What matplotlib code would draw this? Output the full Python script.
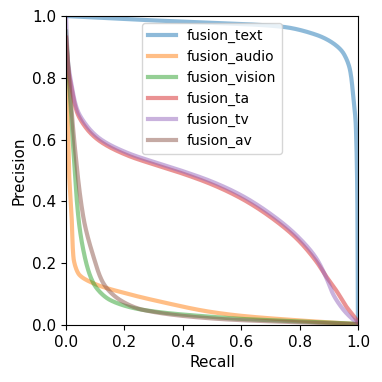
import matplotlib
matplotlib.use('Agg')
import matplotlib.pyplot as plt
import numpy as np

# Precision / recall curves
text_r = [0.0, 0.25, 0.5, 0.65, 0.744, 0.858, 0.915, 0.95, 0.973, 0.983, 0.993, 0.998, 1.0]
text_p = [1.0, 0.988, 0.978, 0.972, 0.965, 0.939, 0.912, 0.88, 0.825, 0.75, 0.64, 0.4, 0.0]

audio_r = [0.0, 0.005, 0.01, 0.019, 0.025, 0.042, 0.094, 0.208, 0.322, 0.493, 0.6, 0.8, 1.0]
audio_p = [0.9, 0.7, 0.5, 0.35, 0.221, 0.167, 0.135, 0.102, 0.076, 0.043, 0.03, 0.015, 0.003]

vision_r = [0.0, 0.01, 0.025, 0.042, 0.059, 0.094, 0.151, 0.265, 0.493, 0.6, 0.8, 1.0]
vision_p = [0.95, 0.8, 0.566, 0.35, 0.243, 0.135, 0.081, 0.049, 0.027, 0.02, 0.012, 0.004]

ta_r = [0.0, 0.005, 0.02, 0.037, 0.071, 0.116, 0.208, 0.3, 0.4, 0.5, 0.6, 0.7, 0.79, 0.858, 0.893, 0.927, 0.96, 0.985, 1.0]
ta_p = [0.93, 0.85, 0.76, 0.69, 0.635, 0.595, 0.55, 0.52, 0.49, 0.455, 0.41, 0.35, 0.28, 0.205, 0.155, 0.11, 0.06, 0.03, 0.01]

tv_r = [0.0, 0.005, 0.02, 0.037, 0.071, 0.116, 0.208, 0.3, 0.4, 0.5, 0.6, 0.7, 0.79, 0.858, 0.893, 0.915, 0.95, 0.975, 1.0]
tv_p = [1.0, 0.87, 0.77, 0.70, 0.645, 0.603, 0.558, 0.528, 0.498, 0.464, 0.42, 0.36, 0.29, 0.215, 0.15, 0.10, 0.05, 0.025, 0.005]

av_r = [0.0, 0.01, 0.031, 0.059, 0.094, 0.128, 0.185, 0.265, 0.493, 0.6, 0.8, 1.0]
av_p = [0.93, 0.8, 0.566, 0.35, 0.221, 0.135, 0.081, 0.049, 0.022, 0.016, 0.009, 0.003]

names = ['fusion_text', 'fusion_audio', 'fusion_vision', 'fusion_ta', 'fusion_tv', 'fusion_av']
curves = [(text_r, text_p), (audio_r, audio_p), (vision_r, vision_p),
          (ta_r, ta_p), (tv_r, tv_p), (av_r, av_p)]


def pchip(t, y, ts):
    # Fritsch-Carlson monotone cubic, no scipy needed
    h = np.diff(t)
    d = np.diff(y) / h
    m = np.zeros_like(y)
    for k in range(1, len(y) - 1):
        if d[k - 1] * d[k] > 0:
            w1, w2 = 2 * h[k] + h[k - 1], h[k] + 2 * h[k - 1]
            m[k] = (w1 + w2) / (w1 / d[k - 1] + w2 / d[k])
    m[0], m[-1] = d[0], d[-1]
    idx = np.clip(np.searchsorted(t, ts) - 1, 0, len(h) - 1)
    s = (ts - t[idx]) / h[idx]
    h00 = 2 * s**3 - 3 * s**2 + 1
    h10 = s**3 - 2 * s**2 + s
    h01 = -2 * s**3 + 3 * s**2
    h11 = s**3 - s**2
    return h00 * y[idx] + h10 * h[idx] * m[idx] + h01 * y[idx + 1] + h11 * h[idx] * m[idx + 1]


def smooth(r, p, n=600):
    # parametrise by arc length so steep ends stay smooth
    r, p = np.asarray(r, float), np.asarray(p, float)
    t = np.concatenate([[0], np.cumsum(np.hypot(np.diff(r), np.diff(p)))])
    ts = np.linspace(0, t[-1], n)
    return pchip(t, r, ts), pchip(t, p, ts)


fig = plt.figure(figsize=(3.82, 3.82), dpi=100)
ax = fig.add_axes([0.173, 0.149, 0.764, 0.809])

for name, (r, p) in zip(names, curves):
    xs, ys = smooth(r, p)
    ax.plot(xs, ys, lw=3, alpha=0.5, label=name)

ax.set_xlim(0, 1)
ax.set_ylim(0, 1)
ax.set_xticks(np.arange(0, 1.01, 0.2))
ax.set_yticks(np.arange(0, 1.01, 0.2))
ax.set_xlabel('Recall', fontsize=11)
ax.set_ylabel('Precision', fontsize=11)
ax.tick_params(labelsize=11)
ax.legend(loc='upper center', fontsize=10)

fig.savefig('out.png', dpi=100)
